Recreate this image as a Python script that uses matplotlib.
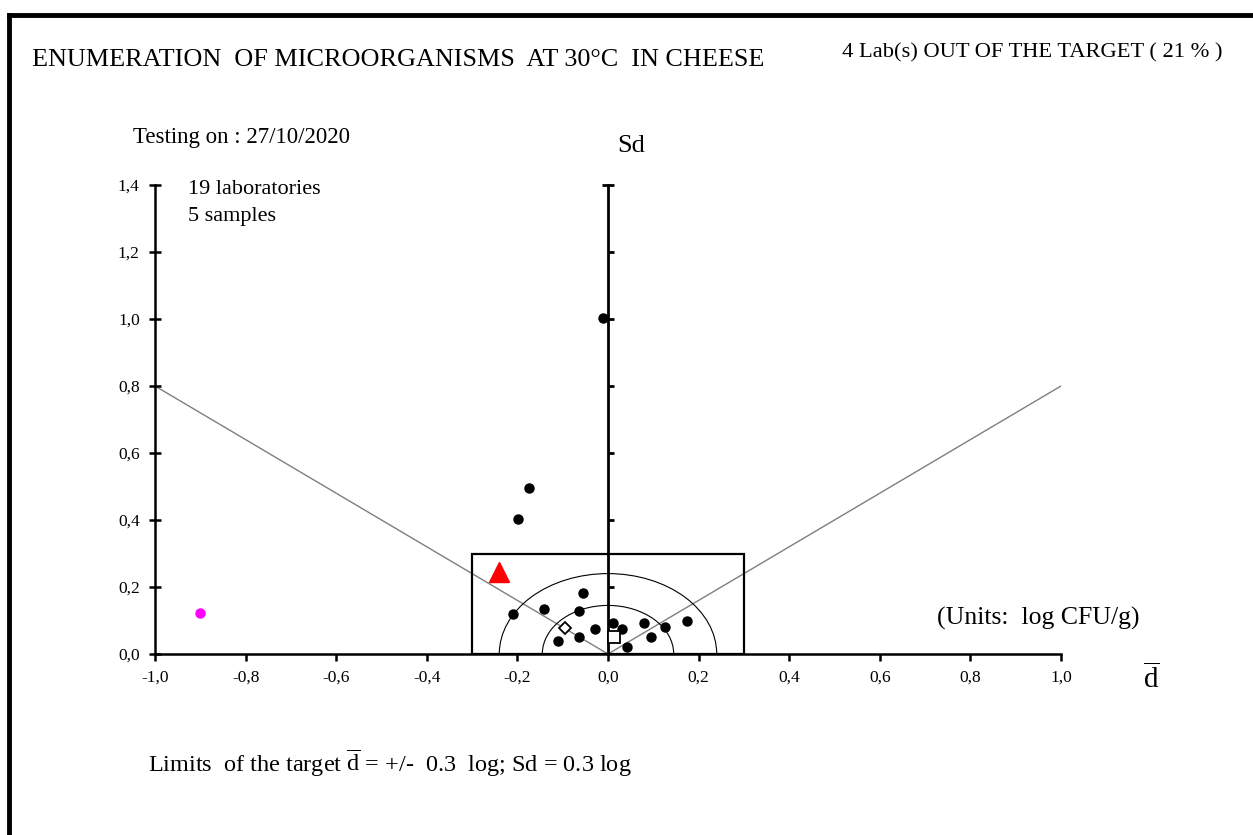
import numpy as np
import matplotlib
matplotlib.use('Agg')
import matplotlib.pyplot as plt
from matplotlib import patches
from matplotlib.lines import Line2D

plt.rcParams['font.family'] = ['Liberation Serif', 'DejaVu Serif']
plt.rcParams['mathtext.fontset'] = 'custom'
plt.rcParams['mathtext.rm'] = 'Liberation Serif'
plt.rcParams['mathtext.it'] = 'Liberation Serif:italic'

# laboratories (mean deviation d, standard deviation Sd)
lab_d = [-0.011, -0.174, -0.199, -0.056, -0.210, -0.141, -0.065, 0.012, -0.029,
         0.031, 0.079, 0.126, 0.174, 0.095, -0.065, -0.111, 0.043]
lab_sd = [1.003, 0.496, 0.403, 0.183, 0.118, 0.133, 0.129, 0.092, 0.074,
          0.075, 0.092, 0.082, 0.099, 0.052, 0.052, 0.040, 0.020]
outlier_d = [-0.90]
outlier_sd = [0.122]
flag_d = [-0.241]
flag_sd = [0.245]
diamond_d = [-0.095]
diamond_sd = [0.077]
square_d = [0.014]
square_sd = [0.052]

target = 0.3
radii = [0.145, 0.24]
slope = 0.8
xticks = [-1.0, -0.8, -0.6, -0.4, -0.2, 0.0, 0.2, 0.4, 0.6, 0.8, 1.0]
yticks = [0.0, 0.2, 0.4, 0.6, 0.8, 1.0, 1.2, 1.4]

fig = plt.figure(figsize=(12.53, 8.35), dpi=100)

# page border (top and left)
fig.add_artist(Line2D([0.0075, 1.0], [0.9815, 0.9815], color='black', lw=3.5,
                      transform=fig.transFigure))
fig.add_artist(Line2D([0.0072, 0.0072], [0.0, 0.9815], color='black', lw=3.5,
                      transform=fig.transFigure))

ax = fig.add_axes([155 / 1253, 1 - 654 / 835, 906 / 1253, 469 / 835])
ax.set_xlim(-1.0, 1.0)
ax.set_ylim(0.0, 1.4)

for s in ['top', 'right']:
    ax.spines[s].set_visible(False)
ax.spines['left'].set_linewidth(1.8)
ax.spines['bottom'].set_linewidth(1.8)

ax.set_xticks(xticks)
ax.set_xticklabels([('%.1f' % v).replace('.', ',') for v in xticks], fontsize=12.5)
ax.set_yticks(yticks)
ax.set_yticklabels([('%.1f' % v).replace('.', ',') for v in yticks], fontsize=12.5)
ax.tick_params(axis='x', direction='out', length=5, width=1.8, pad=6)
ax.tick_params(axis='y', direction='inout', length=8, width=1.8, pad=7)

# central Sd axis
ax.plot([0, 0], [0, 1.4], color='black', lw=2, clip_on=False, zorder=2)
ax.plot([0] * 6, yticks[1:-1], ls='none', marker=1, ms=4, mew=2, color='black',
        clip_on=False, zorder=2)
ax.plot([0], [1.4], ls='none', marker='_', ms=8, mew=2, color='black', clip_on=False)

# V lines
ax.plot([-1, 0, 1], [slope, 0, slope], color='#7f7f7f', lw=1, zorder=1)

# target rectangle and circles
ax.add_patch(patches.Rectangle((-target, 0), 2 * target, target, fill=False,
                               ec='black', lw=1.6, zorder=2))
for r in radii:
    ax.add_patch(patches.Arc((0, 0), 2 * r, 2 * r, theta1=0, theta2=180,
                             color='black', lw=0.8, zorder=2))

ax.plot(lab_d, lab_sd, 'o', color='black', ms=6.5, zorder=4, clip_on=False)
ax.plot(outlier_d, outlier_sd, 'o', color='#ff00ff', ms=6.5, zorder=4)
ax.plot(flag_d, flag_sd, '^', color='#ff0000', ms=14, zorder=4)
ax.plot(diamond_d, diamond_sd, 'D', mfc='white', mec='black', mew=1.3, ms=6, zorder=5)
ax.plot(square_d, square_sd, 's', mfc='white', mec='black', mew=1.3, ms=8, zorder=5)

# texts
fig.text(32 / 1253, 1 - 60 / 835, 'ENUMERATION  OF MICROORGANISMS  AT 30\u00b0C  IN CHEESE',
         fontsize=18.8, va='center', ha='left')
fig.text(1222 / 1253, 1 - 53 / 835, '4 Lab(s) OUT OF THE TARGET ( 21 % )',
         fontsize=16.2, va='center', ha='right')
fig.text(133 / 1253, 1 - 138 / 835, 'Testing on : 27/10/2020', fontsize=16.5,
         va='center', ha='left')
fig.text(631 / 1253, 1 - 146 / 835, 'Sd', fontsize=19, va='center', ha='center')
fig.text(188 / 1253, 1 - 190 / 835, '19 laboratories', fontsize=16,
         va='center', ha='left')
fig.text(188 / 1253, 1 - 216 / 835, '5 samples', fontsize=16, va='center', ha='left')
fig.text(937 / 1253, 1 - 618 / 835, '(Units:  log CFU/g)', fontsize=18.5,
         va='center', ha='left')
fig.text(1151 / 1253, 1 - 679 / 835, r'$\overline{\mathrm{d}}$', fontsize=21,
         va='center', ha='center')
fig.text(148 / 1253, 1 - 763 / 835,
         r'Limits  of the target $\overline{\mathrm{d}}$ = +/-  0.3  log; Sd = 0.3 log',
         fontsize=17.5, va='center', ha='left')

fig.savefig('out.png', dpi=100)
